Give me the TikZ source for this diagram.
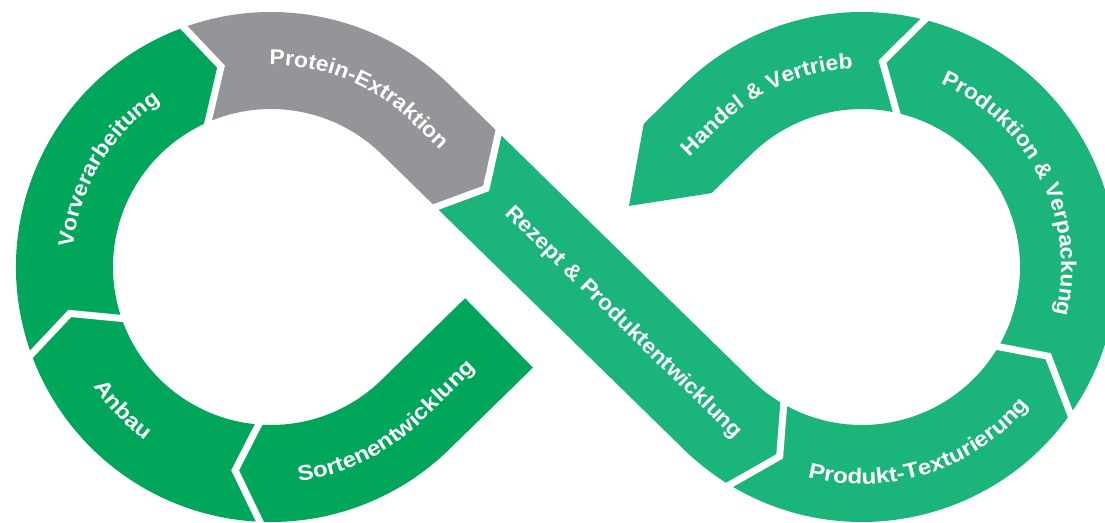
\documentclass[tikz,border=0pt]{standalone}
\usepackage{fontspec}
\setmainfont{Liberation Sans}
\newfontfamily\labfont{Liberation Sans}[FakeStretch=1.06]
\newfontfamily\labfontw{Liberation Sans}[FakeStretch=1.12]
\usetikzlibrary{calc,decorations.text}
\definecolor{dg}{RGB}{0,166,90}
\definecolor{lg}{RGB}{27,180,122}
\definecolor{gy}{RGB}{147,149,152}
\newcommand\lbl{\labfont\fontsize{21.5}{25}\selectfont\bfseries\color{white}}
\newcommand\lblw{\labfontw\fontsize{21.5}{25}\selectfont\bfseries\color{white}}
\tikzset{
  gap/.style={draw=white, line width=7pt, line join=miter, shorten <=-10pt, shorten >=-10pt},
  lab/.style={text=white, font=\lbl, inner sep=0pt},
}
\begin{document}
\begin{tikzpicture}[x=1pt,y=1pt]
\useasboundingbox (0,0) rectangle (1105,522);
\coordinate (L) at (271,255);
\coordinate (R) at (862,255);
\coordinate (M) at (566.5,255);
% joints left ring
\coordinate (saO) at ($(L)+(267.5:255)$);
\coordinate (saT) at ($(L)+(260:206.5)$);
\coordinate (saI) at ($(L)+(265.5:158)$);
\coordinate (avO) at ($(L)+(200:255)$);
\coordinate (avT) at ($(L)+(193:206.5)$);
\coordinate (avI) at ($(L)+(199:158)$);
\coordinate (vpO) at ($(L)+(110:255)$);
\coordinate (vpT) at ($(L)+(104:206.5)$);
\coordinate (vpI) at ($(L)+(113.5:158)$);
\coordinate (prO) at ($(L)+(45.67:255)+(-44.33:69)$);
\coordinate (prT) at ($(L)+(45.67:206.5)+(-44.33:99)$);
\coordinate (prI) at ($(L)+(45.67:158)+(-44.33:76)$);
\coordinate (tLi) at ($(L)+(45.67:158)$);
\coordinate (tRi) at ($(R)+(225.67:158)$);
% joints right ring
\coordinate (rtO) at ($(R)+(238.7:255)$);
\coordinate (rtT) at ($(R)+(246.5:206.5)$);
\coordinate (rtI) at ($(R)+(240.3:158)$);
\coordinate (tpO) at ($(R)+(324.8:255)$);
\coordinate (tpT) at ($(R)+(334.4:206.5)$);
\coordinate (tpI) at ($(R)+(329.7:158)$);
\coordinate (phO) at ($(R)+(75.8:255)$);
\coordinate (phT) at ($(R)+(84.3:206.5)$);
\coordinate (phI) at ($(R)+(77.3:158)$);
\coordinate (hTi) at ($(R)+(134.33:158)$);
\coordinate (hBo) at ($(R)+(134.33:255)+(224.33:56)$);
\coordinate (hBi) at ($(R)+(134.33:158)+(224.33:56)$);
\coordinate (hTip) at ($(R)+(134.33:206.5)+(224.33:124)$);
\coordinate (sTo) at ($(L)+(-45.67:255)$);
\coordinate (sEo) at ($(L)+(-45.67:255)+(44.33:117)$);
\coordinate (sEi) at ($(L)+(-45.67:158)+(44.33:117)$);

% segments
\fill[dg] (sEo) -- (sTo) arc[start angle=-45.67, end angle=-92.5, radius=255] -- (saT) -- (saI)
  arc[start angle=-94.5, end angle=-45.67, radius=158] -- (sEi) -- cycle;
\fill[dg] (saO) arc[start angle=267.5, end angle=200, radius=255] -- (avT) -- (avI)
  arc[start angle=199, end angle=265.5, radius=158] -- (saT) -- cycle;
\fill[dg] (avO) arc[start angle=200, end angle=110, radius=255] -- (vpT) -- (vpI)
  arc[start angle=113.5, end angle=199, radius=158] -- (avT) -- cycle;
\fill[gy] (vpO) arc[start angle=110, end angle=45.67, radius=255] -- (prO) -- (prT) -- (prI) -- (tLi)
  arc[start angle=45.67, end angle=113.5, radius=158] -- (vpT) -- cycle;
\fill[lg] (prO) -- (tRi) arc[start angle=225.67, end angle=240.3, radius=158] -- (rtT) -- (rtO)
  arc[start angle=238.7, end angle=225.67, radius=255] -- (prI) -- (prT) -- cycle;
\fill[lg] (rtO) arc[start angle=238.7, end angle=324.8, radius=255] -- (tpT) -- (tpI)
  arc[start angle=329.7, end angle=240.3, radius=158] -- (rtT) -- cycle;
\fill[lg] (tpO) arc[start angle=-35.2, end angle=75.8, radius=255] -- (phT) -- (phI)
  arc[start angle=77.3, end angle=-30.3, radius=158] -- (tpT) -- cycle;
\fill[lg] (phO) arc[start angle=75.8, end angle=134.33, radius=255] -- (hBo) -- (hTip) -- (hBi) -- (hTi)
  arc[start angle=134.33, end angle=77.3, radius=158] -- (phT) -- cycle;

% white gaps
\draw[gap] (saO) -- (saT) -- (saI);
\draw[gap] (avO) -- (avT) -- (avI);
\draw[gap] (vpO) -- (vpT) -- (vpI);
\draw[gap] (prO) -- (prT) -- (prI);
\draw[gap] (rtO) -- (rtT) -- (rtI);
\draw[gap] (tpO) -- (tpT) -- (tpI);
\draw[gap] (phO) -- (phT) -- (phI);

% labels
\path[decorate, decoration={text along path, text align=center, text={|\lbl|Vorverarbeitung}}]
  ($(L)+(190:199)$) arc[start angle=190, end angle=108, radius=199];
\path[decorate, decoration={text along path, text align=center, text={|\lbl|Protein-Extraktion}}]
  ($(L)+(99:202)$) arc[start angle=99, end angle=45.67, radius=202] -- ($(L)+(45.67:202)+(-44.33:70)$);
\path[decorate, decoration={text along path, text align=center, text={|\lblw|Anbau}}]
  ($(L)+(204:214)$) arc[start angle=204, end angle=244, radius=214];
\path[decorate, decoration={text along path, text align=center, text={|\lblw|Sortenentwicklung}}]
  ($(L)+(268:216)$) arc[start angle=268, end angle=314.33, radius=216] -- ($(L)+(-45.67:216)+(44.33:112)$);
\node[lab, rotate=-44.33] (rezept) at ($(M)+(-44.33:80)$) {Rezept \& Produktentwicklung};
\path[decorate, decoration={text along path, text align=center, text={|\lblw|Produkt-Texturierung}}]
  ($(R)+(249:217)$) arc[start angle=249, end angle=327, radius=217];
\path[decorate, decoration={text along path, text align=center, text={|\lbl|Produktion {\&} Verpackung}}]
  ($(R)+(76:199)$) arc[start angle=76, end angle=-23, radius=199];
\path[decorate, decoration={text along path, text align=center, text={|\lbl|Handel {\&} Vertrieb}}]
  ($(R)+(134.33:199)+(224.33:61)$) -- ($(R)+(134.33:199)$) arc[start angle=134.33, end angle=88.4, radius=199];
\end{tikzpicture}
\end{document}
